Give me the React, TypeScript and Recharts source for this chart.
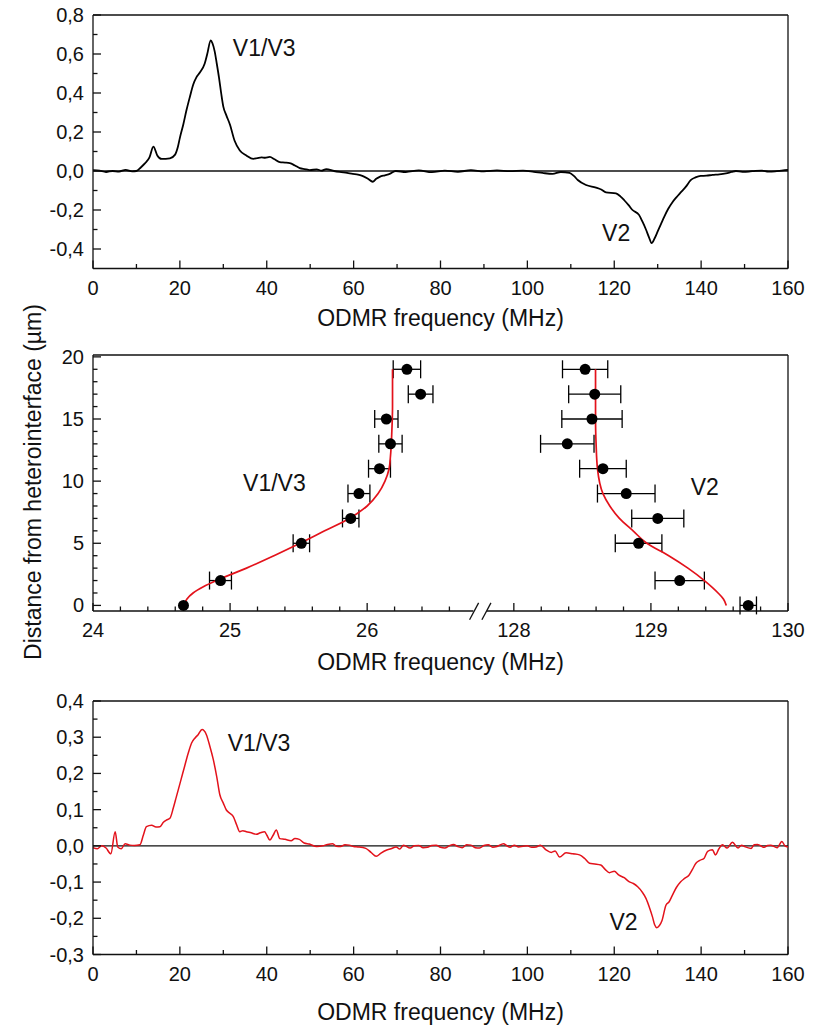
import React from 'react';
import {
  LineChart,
  Line,
  ComposedChart,
  Scatter,
  ErrorBar,
  XAxis,
  YAxis,
  ReferenceLine,
  ReferenceDot,
} from 'recharts';

const INK = '#111';
const RED = '#e3121b';
const FONT = '"Liberation Sans", Arial, sans-serif';

// upper spectrum, black trace: [MHz, signal]
const blackSpectrum: [number, number][] = [
  [0, 0.005], [1.5, 0.002], [3, -0.005], [4.5, 0.0], [6, -0.003], [7.5, 0.006], [9, -0.002],
  [10, 0.0], [11, 0.018], [12, 0.04], [13, 0.07], [13.9, 0.125], [14.8, 0.08], [15.8, 0.062],
  [17.7, 0.065], [18.9, 0.084], [19.5, 0.12], [20, 0.17], [20.8, 0.24], [21.5, 0.31],
  [22.3, 0.38], [23.1, 0.445], [23.8, 0.48], [24.6, 0.505], [25.7, 0.55], [26.3, 0.6],
  [27.1, 0.67], [27.5, 0.655], [28.0, 0.615], [28.5, 0.55], [29.0, 0.48], [29.5, 0.4],
  [30.0, 0.33], [30.7, 0.285], [31.5, 0.24], [32.6, 0.155], [33.8, 0.105], [35.3, 0.08],
  [36.9, 0.062], [37.8, 0.066], [38.8, 0.07], [39.6, 0.068], [40.7, 0.072], [41.8, 0.06],
  [43.0, 0.045], [44.2, 0.043], [45.3, 0.04], [46.5, 0.028], [47.6, 0.015], [48.8, 0.01],
  [49.9, 0.005], [51.5, 0.008], [52.6, 0.002], [53.7, 0.01], [55.5, 0.0], [56.8, -0.005],
  [58.5, -0.01], [59.8, -0.015], [61, -0.018], [62, -0.025], [63.3, -0.04], [64.4, -0.055],
  [65.2, -0.04], [66, -0.03], [67.2, -0.022], [68.3, -0.015], [69.7, 0.0], [72, -0.005],
  [75, 0.003], [78, -0.006], [81, 0.002], [84, -0.004], [87, 0.004], [90, -0.002], [93, 0.003],
  [96, -0.001], [99, 0.002], [101.5, -0.004], [103.5, -0.01], [105.8, -0.015], [107.7, -0.005],
  [109.7, -0.01], [110.7, -0.025], [111.6, -0.046], [113.5, -0.072], [115.8, -0.085],
  [117, -0.095], [118.1, -0.11], [120.4, -0.115], [121.4, -0.13], [122.3, -0.15],
  [123.3, -0.175], [124.2, -0.2], [125.7, -0.225], [126.5, -0.26], [127.3, -0.3], [128, -0.34],
  [128.6, -0.37], [129.3, -0.345], [130, -0.31], [130.8, -0.27], [131.5, -0.235],
  [132.4, -0.195], [133.4, -0.16], [134.3, -0.135], [135.3, -0.11], [136.5, -0.08],
  [137.6, -0.047], [138.7, -0.033], [139.9, -0.025], [141.2, -0.024], [142.6, -0.02],
  [144.2, -0.017], [145.7, -0.012], [147, -0.005], [148, 0.0], [149.5, -0.004], [151, -0.003],
  [152.5, 0.001], [154, 0.002], [155.5, -0.003], [157, -0.002], [158.5, 0.002], [160, 0.006],
];

// lower spectrum, red trace: [MHz, signal]
const redSpectrum: [number, number][] = [
  [0, -0.005], [1, -0.008], [2, 0.0], [3, -0.006], [4.1, -0.022], [5.1, 0.039], [5.7, -0.003],
  [6.5, -0.008], [7.4, 0.006], [8.5, 0.002], [9.5, 0.001], [10.8, 0.003], [11.6, 0.03],
  [12.3, 0.053], [13.5, 0.057], [14.5, 0.052], [15.4, 0.053], [16.2, 0.065], [16.9, 0.071],
  [17.7, 0.076], [18.5, 0.105], [19.2, 0.136], [20.2, 0.18], [21.1, 0.22], [21.9, 0.255],
  [22.7, 0.284], [23.5, 0.298], [24.2, 0.307], [25.1, 0.321], [26.1, 0.307], [26.9, 0.275],
  [27.7, 0.238], [28.5, 0.19], [29.2, 0.141], [30.0, 0.118], [30.7, 0.099], [31.5, 0.09],
  [32.3, 0.081], [33.0, 0.06], [33.8, 0.039], [34.5, 0.042], [35.3, 0.039], [36.4, 0.036],
  [37.6, 0.032], [38.5, 0.036], [39.5, 0.039], [40.0, 0.03], [40.7, 0.016], [41.5, 0.03],
  [42.2, 0.044], [43, 0.02], [44.2, 0.018], [45.6, 0.014], [46.5, 0.02], [47.5, 0.018],
  [48.6, 0.008], [49.8, 0.005], [51.5, -0.002], [52.9, 0.0], [54, 0.004], [55.2, 0.006],
  [56, -0.001], [57, -0.002], [58, 0.003], [59, 0.002], [60, -0.002], [61, -0.003],
  [62.8, -0.007], [64, -0.018], [65.2, -0.029], [66.3, -0.02], [67.5, -0.012], [68.6, -0.008],
  [69.8, -0.003], [70.6, -0.009], [71.5, 0.002], [73, -0.006], [74, 0.0], [75, 0.001],
  [76, -0.005], [77, -0.004], [78, 0.001], [79, 0.002], [80, -0.004], [81, -0.006], [82, 0.0],
  [83, 0.004], [84, -0.002], [85, -0.005], [86, 0.003], [87, 0.002], [88, -0.005],
  [89, -0.006], [90, 0.001], [91, 0.003], [92, -0.004], [93, -0.002], [94.5, 0.006],
  [95.3, 0.0], [96, -0.004], [97, 0.002], [98, -0.003], [99, -0.001], [100, 0.0],
  [101, -0.004], [102, -0.003], [103, 0.002], [104.3, -0.011], [105.5, -0.018],
  [106.4, -0.014], [107.4, -0.031], [108.9, -0.019], [110.5, -0.022], [112, -0.025],
  [113.2, -0.035], [114.3, -0.048], [115.5, -0.05], [116.9, -0.053], [117.9, -0.065],
  [118.9, -0.074], [120, -0.07], [121.1, -0.081], [122.3, -0.088], [123.4, -0.099],
  [124.4, -0.104], [125.4, -0.113], [126.4, -0.127], [127.3, -0.145], [128.1, -0.17],
  [128.8, -0.196], [129.3, -0.218], [129.8, -0.226], [130.4, -0.22], [131, -0.206],
  [131.9, -0.164], [132.6, -0.155], [133.4, -0.136], [134.3, -0.115], [135.3, -0.099],
  [136.2, -0.09], [137.2, -0.081], [138, -0.065], [138.8, -0.048], [139.7, -0.04],
  [140.7, -0.034], [141.5, -0.015], [142.6, -0.011], [143.3, -0.025], [144.1, -0.008],
  [144.9, 0.003], [146, -0.006], [147.2, 0.01], [148.5, -0.006], [149.3, 0.002],
  [150, -0.002], [151.5, -0.007], [152.2, 0.003], [153, 0.004], [154.5, -0.004], [155.3, 0.001],
  [156, 0.002], [157.5, -0.005], [158.6, 0.012], [159.3, 0.0], [160, -0.003],
];

const spectrumTicksX = [0, 10, 20, 30, 40, 50, 60, 70, 80, 90, 100, 110, 120, 130, 140, 150, 160];
const spectrumMajorsX = [0, 20, 40, 60, 80, 100, 120, 140, 160];
const blackTicksY = [-0.4, -0.3, -0.2, -0.1, 0, 0.1, 0.2, 0.3, 0.4, 0.5, 0.6, 0.7, 0.8];
const blackMajorsY = [-0.4, -0.2, 0, 0.2, 0.4, 0.6, 0.8];
const redTicksY = [-0.3, -0.25, -0.2, -0.15, -0.1, -0.05, 0, 0.05, 0.1, 0.15, 0.2, 0.25, 0.3, 0.35, 0.4];
const redMajorsY = [-0.3, -0.2, -0.1, 0, 0.1, 0.2, 0.3, 0.4];

// depth profile (middle panel)
const depthUm = [0, 2, 5, 7, 9, 11, 13, 15, 17, 19];
const v13Freq = [24.66, 24.93, 25.52, 25.88, 25.94, 26.09, 26.17, 26.14, 26.39, 26.29];
const v13Err = [0.0, 0.08, 0.06, 0.06, 0.08, 0.08, 0.085, 0.085, 0.09, 0.1];
const v2Freq = [129.71, 129.21, 128.91, 129.05, 128.82, 128.65, 128.39, 128.57, 128.59, 128.52];
const v2Err = [0.06, 0.18, 0.17, 0.19, 0.21, 0.17, 0.195, 0.22, 0.19, 0.165];

const v13FitDepth = [0, 0.5, 1, 1.5, 2, 3, 4, 5, 6, 7, 8, 9, 10, 11, 12, 14, 16, 19];
const v13FitFreq = [24.664, 24.684, 24.73, 24.805, 24.9, 25.12, 25.32, 25.51, 25.69, 25.87, 26.0, 26.08, 26.13, 26.16, 26.17, 26.18, 26.185, 26.185];
const v2FitDepth = [0, 0.5, 1, 2, 3, 4, 5, 6, 7, 8, 9, 11, 13, 15, 19];
const v2FitFreq = [129.55, 129.53, 129.49, 129.39, 129.27, 129.13, 128.97, 128.87, 128.77, 128.7, 128.65, 128.61, 128.6, 128.596, 128.596];

const depthTicks = [0, 1, 2, 3, 4, 5, 6, 7, 8, 9, 10, 11, 12, 13, 14, 15, 16, 17, 18, 19, 20];
const depthMajors = [0, 5, 10, 15, 20];
const freqTicksLow = [24, 24.2, 24.4, 24.6, 24.8, 25, 25.2, 25.4, 25.6, 25.8, 26, 26.2, 26.4, 26.6];
const freqTicksHigh = [128, 128.2, 128.4, 128.6, 128.8, 129, 129.2, 129.4, 129.6, 129.8, 130];
const freqMajors = [24, 25, 26, 128, 129, 130];

// broken frequency axis: 24..LOW_END, then HIGH_START..130
const LOW_END = 26.83;
const HIGH_START = 127.76;
const BREAK_AT = LOW_END - 24;
const toAxis = (f: number) => (f < 100 ? f - 24 : f - HIGH_START + BREAK_AT);
const fromAxis = (x: number) => (x <= BREAK_AT + 1e-6 ? x + 24 : x - BREAK_AT + HIGH_START);
const X_MAX = toAxis(130);
const DEPTH_MIN = -0.45;
const DEPTH_MAX = 20.15;

const comma = (v: number) => v.toFixed(1).replace('.', ',');
const near = (a: number, b: number) => Math.abs(a - b) < 1e-6;

function makeTick(side: 'x' | 'y', majors: number[], format: (v: number) => string) {
  return (props: any) => {
    const { x, y, payload } = props;
    const v = payload.value;
    const major = majors.some((m) => near(m, v));
    const len = major ? 8 : 4.5;
    if (side === 'x') {
      return (
        <g>
          <line x1={x} x2={x} y1={y} y2={y - len} stroke={INK} strokeWidth={1.3} />
          {major && (
            <text x={x} y={y + 26} textAnchor="middle" fontSize={20} fill={INK} fontFamily={FONT}>
              {format(v)}
            </text>
          )}
        </g>
      );
    }
    return (
      <g>
        <line x1={x} x2={x + len} y1={y} y2={y} stroke={INK} strokeWidth={1.3} />
        {major && (
          <text x={x - 9} y={y + 7} textAnchor="end" fontSize={20} fill={INK} fontFamily={FONT}>
            {format(v)}
          </text>
        )}
      </g>
    );
  };
}

const blackData = blackSpectrum.map(([f, v]) => ({ f, v }));
const redData = redSpectrum.map(([f, v]) => ({ f, v }));
const v13Points = depthUm.map((d, i) => ({ x: toAxis(v13Freq[i]), d, err: v13Err[i] }));
const v2Points = depthUm.map((d, i) => ({ x: toAxis(v2Freq[i]), d, err: v2Err[i] }));
const v13Fit = v13FitDepth.map((d, i) => ({ x: toAxis(v13FitFreq[i]), d }));
const v2Fit = v2FitDepth.map((d, i) => ({ x: toAxis(v2FitFreq[i]), d }));

const annotation = (value: string) => ({ value, position: 'right' as const, offset: 0, fontSize: 23, fill: INK, fontFamily: FONT });
const axisTitle = (offset: number) => ({
  value: 'ODMR frequency (MHz)',
  position: 'insideTop' as const,
  offset,
  fontSize: 23,
  fill: INK,
  fontFamily: FONT,
});

const Dot = (p: any) => <circle cx={p.cx} cy={p.cy} r={5.5} fill="#000" />;
const NoDot = () => <g />;

const SpectrumChart = ({ data, color, width, yDomain, yTicks, yMajors, top, marginTop, marginBottom, xAxisHeight, titleOffset, labels }: any) => (
  <div style={{ position: 'absolute', left: 0, top, width: 833, height: 340 }}>
    <LineChart width={833} height={340} data={data} margin={{ top: marginTop, right: 45, left: 0, bottom: marginBottom }}>
      <XAxis
        type="number"
        dataKey="f"
        domain={[0, 160]}
        ticks={spectrumTicksX}
        interval={0}
        tickSize={0}
        tickMargin={0}
        tickLine={false}
        axisLine={{ stroke: INK, strokeWidth: 1.3 }}
        tick={makeTick('x', spectrumMajorsX, (v) => String(v))}
        height={xAxisHeight}
        allowDataOverflow
        label={axisTitle(titleOffset)}
      />
      <YAxis
        type="number"
        domain={yDomain}
        ticks={yTicks}
        interval={0}
        tickSize={0}
        tickMargin={0}
        tickLine={false}
        axisLine={{ stroke: INK, strokeWidth: 1.3 }}
        tick={makeTick('y', yMajors, comma)}
        width={93}
        allowDataOverflow
      />
      <ReferenceLine y={yDomain[1]} stroke={INK} strokeWidth={1.3} />
      <ReferenceLine x={160} stroke={INK} strokeWidth={1.3} />
      <ReferenceLine y={0} stroke={INK} strokeWidth={1.3} />
      <Line type="monotone" dataKey="v" stroke={color} strokeWidth={width} dot={false} isAnimationActive={false} />
      {labels.map((l: any) => (
        <ReferenceDot key={l.text} x={l.x} y={l.y} r={0} stroke="none" fill="none" label={annotation(l.text)} />
      ))}
    </LineChart>
  </div>
);

const DepthChart = () => (
  <div style={{ position: 'absolute', left: 0, top: 280, width: 833, height: 405 }}>
    <ComposedChart width={833} height={405} margin={{ top: 75, right: 45, left: 0, bottom: 14 }}>
      <XAxis
        type="number"
        dataKey="x"
        domain={[0, X_MAX]}
        ticks={[...freqTicksLow, ...freqTicksHigh].map(toAxis)}
        interval={0}
        tickSize={0}
        tickMargin={0}
        tickLine={false}
        axisLine={false}
        tick={makeTick('x', freqMajors.map(toAxis), (v) => String(Math.round(fromAxis(v))))}
        height={60}
        allowDataOverflow
        label={axisTitle(43)}
      />
      <YAxis
        type="number"
        dataKey="d"
        domain={[DEPTH_MIN, DEPTH_MAX]}
        ticks={depthTicks}
        interval={0}
        tickSize={0}
        tickMargin={0}
        tickLine={false}
        axisLine={{ stroke: INK, strokeWidth: 1.3 }}
        tick={makeTick('y', depthMajors, (v) => String(v))}
        width={93}
        allowDataOverflow
        label={{
          value: 'Distance from heterointerface (µm)',
          content: () => (
            <text
              x={33}
              y={202}
              transform="rotate(-90 33 202)"
              textAnchor="middle"
              dominantBaseline="central"
              fontSize={23}
              fill={INK}
              fontFamily={FONT}
            >
              Distance from heterointerface (µm)
            </text>
          ),
        }}
      />
      <ReferenceLine y={DEPTH_MAX} stroke={INK} strokeWidth={1.3} />
      <ReferenceLine x={X_MAX} stroke={INK} strokeWidth={1.3} />
      <ReferenceLine segment={[{ x: 0, y: DEPTH_MIN }, { x: 2.775, y: DEPTH_MIN }]} stroke={INK} strokeWidth={1.3} ifOverflow="visible" />
      <ReferenceLine segment={[{ x: 2.874, y: DEPTH_MIN }, { x: X_MAX, y: DEPTH_MIN }]} stroke={INK} strokeWidth={1.3} ifOverflow="visible" />
      <ReferenceLine segment={[{ x: 2.747, y: -1.15 }, { x: 2.813, y: 0.2 }]} stroke={INK} strokeWidth={1.3} ifOverflow="visible" />
      <ReferenceLine segment={[{ x: 2.837, y: -1.15 }, { x: 2.903, y: 0.2 }]} stroke={INK} strokeWidth={1.3} ifOverflow="visible" />
      <Scatter data={v13Fit} shape={NoDot} line={{ stroke: RED, strokeWidth: 1.7 }} lineJointType="monotoneY" isAnimationActive={false} />
      <Scatter data={v2Fit} shape={NoDot} line={{ stroke: RED, strokeWidth: 1.7 }} lineJointType="monotoneY" isAnimationActive={false} />
      <Scatter data={v13Points} shape={Dot} isAnimationActive={false}>
        <ErrorBar dataKey="err" direction="x" width={9} stroke="#000" strokeWidth={1.3} />
      </Scatter>
      <Scatter data={v2Points} shape={Dot} isAnimationActive={false}>
        <ErrorBar dataKey="err" direction="x" width={9} stroke="#000" strokeWidth={1.3} />
      </Scatter>
      <ReferenceDot x={toAxis(25.095)} y={9.83} r={0} stroke="none" fill="none" label={annotation('V1/V3')} />
      <ReferenceDot x={toAxis(129.29)} y={9.53} r={0} stroke="none" fill="none" label={annotation('V2')} />
    </ComposedChart>
  </div>
);

export default function App() {
  return (
    <div style={{ position: 'absolute', left: 0, top: 0, width: 833, height: 1025, background: '#fff', fontFamily: FONT }}>
      <SpectrumChart
        data={blackData}
        color="#000"
        width={1.8}
        yDomain={[-0.5, 0.8]}
        yTicks={blackTicksY}
        yMajors={blackMajorsY}
        top={0}
        marginTop={15}
        marginBottom={11.5}
        xAxisHeight={60}
        titleOffset={41.5}
        labels={[
          { text: 'V1/V3', x: 32.2, y: 0.63 },
          { text: 'V2', x: 117.2, y: -0.318 },
        ]}
      />
      <DepthChart />
      <SpectrumChart
        data={redData}
        color={RED}
        width={1.5}
        yDomain={[-0.3, 0.4]}
        yTicks={redTicksY}
        yMajors={redMajorsY}
        top={685}
        marginTop={16}
        marginBottom={5.5}
        xAxisHeight={65}
        titleOffset={49}
        labels={[
          { text: 'V1/V3', x: 31.0, y: 0.285 },
          { text: 'V2', x: 118.9, y: -0.21 },
        ]}
      />
    </div>
  );
}
